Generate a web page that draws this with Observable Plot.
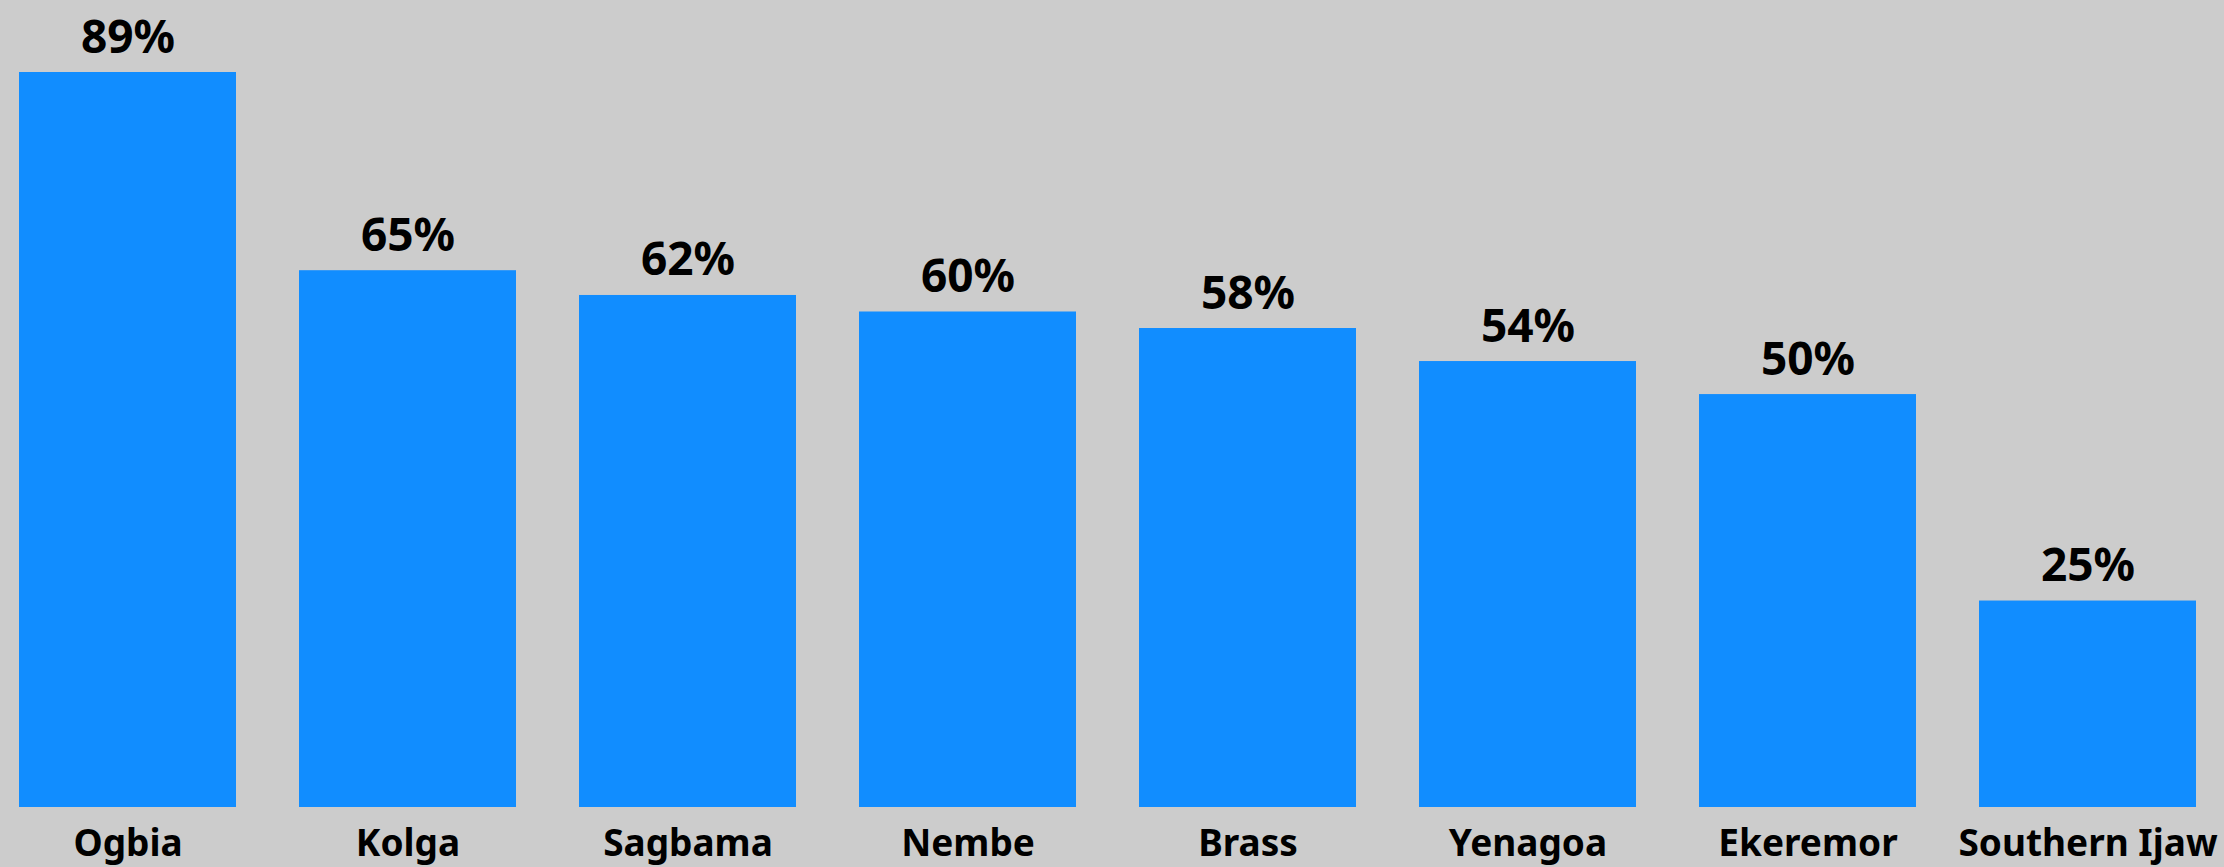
<!DOCTYPE html>
<html>
<head>
<meta charset="utf-8">
<script src="https://cdn.jsdelivr.net/npm/d3@7"></script>
<script src="https://cdn.jsdelivr.net/npm/@observablehq/plot@0.6"></script>
<style>
  html, body { margin: 0; padding: 0; background: #cccccc; }
  #chart svg { display: block; }
</style>
</head>
<body>
<div id="chart"></div>
<script>
const categories = ["Ogbia", "Kolga", "Sagbama", "Nembe", "Brass", "Yenagoa", "Ekeremor", "Southern Ijaw"];
const values = [89, 65, 62, 60, 58, 54, 50, 25];

const data = categories.map((c, i) => ({category: c, value: values[i]}));

const chart = Plot.plot({
  width: 2224,
  height: 867,
  marginLeft: 17,
  marginRight: 25,
  marginTop: 72,
  marginBottom: 60,
  style: {background: "#cccccc", fontFamily: "'Noto Sans', sans-serif", color: "#000"},
  x: {domain: categories, paddingInner: 0.224, paddingOuter: 0, label: null},
  y: {domain: [0, 89], axis: null},
  marks: [
    Plot.barY(data, {x: "category", y: "value", fill: "#118DFF"}),
    Plot.text(data, {
      x: "category", y: "value", text: d => `${d.value}%`,
      lineAnchor: "bottom", dy: -20, fontSize: 46, fontWeight: 700, fill: "#000"
    }),
    Plot.axisX({tickSize: 0, tickPadding: 22, fontSize: 37, fontWeight: 700, label: null, color: "#000"})
  ]
});
chart.querySelectorAll("[aria-label='x-axis tick label'] text").forEach(t => t.setAttribute("font-weight", "700"));
document.getElementById("chart").appendChild(chart);
</script>
</body>
</html>
